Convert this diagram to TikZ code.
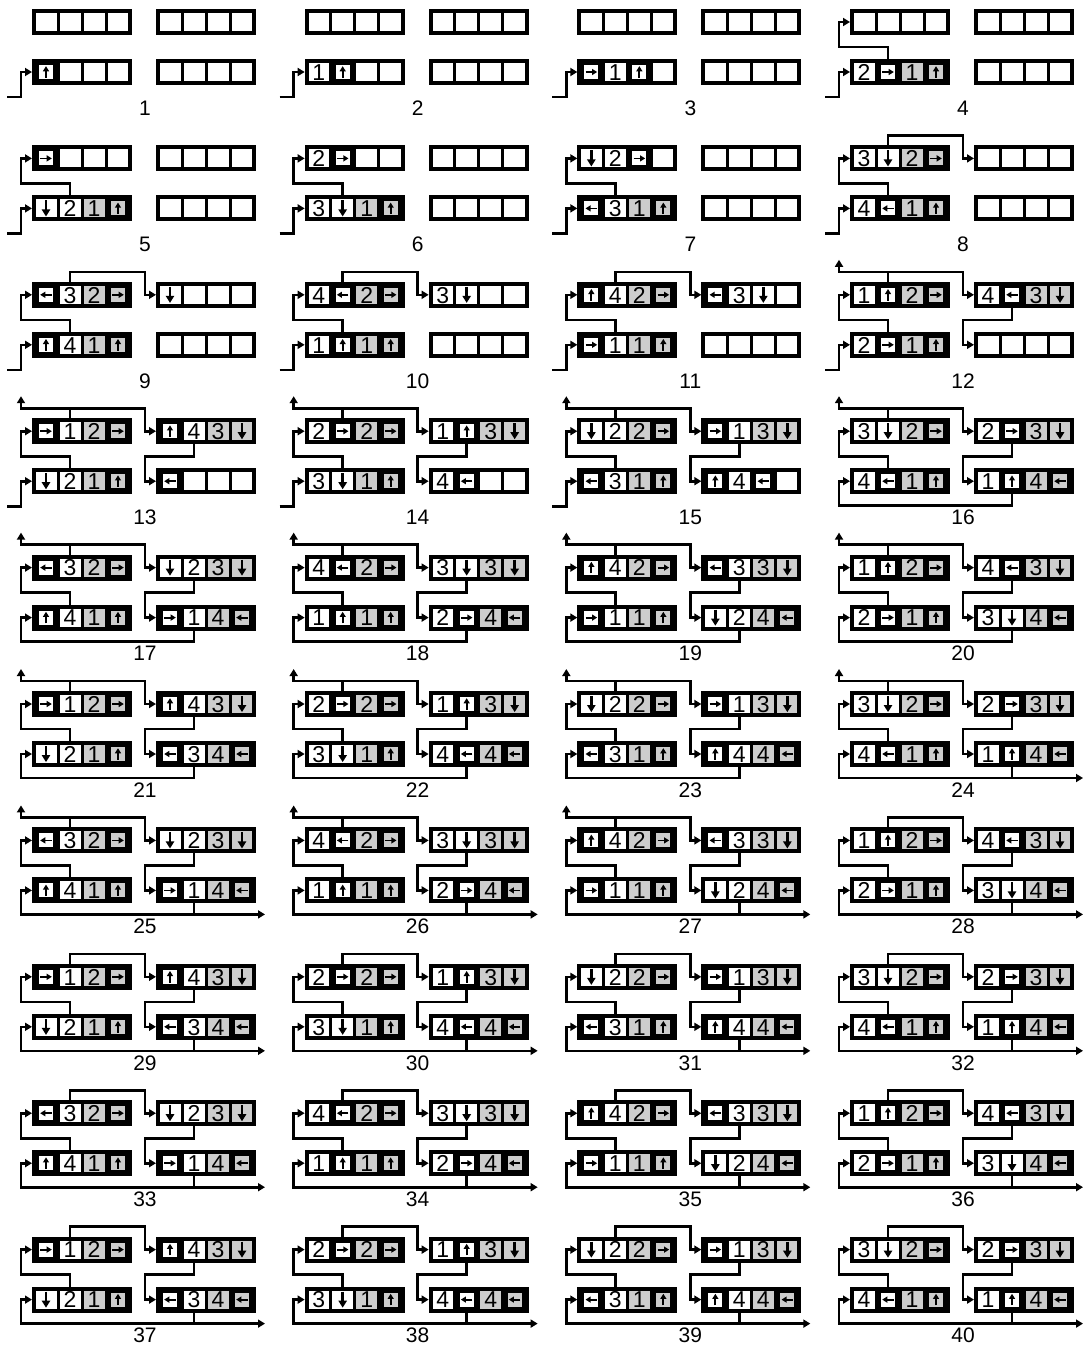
\documentclass[tikz,border=0pt]{standalone}
\usepackage{fontspec}
\setmainfont{Liberation Sans}
\usetikzlibrary{arrows.meta}
\definecolor{cgrey}{RGB}{205,205,205}
\newcommand\numfont{\fontsize{23}{23}\selectfont}
\newcommand\labfont{\fontsize{21}{21}\selectfont}
\tikzset{
 cellbox/.style={draw, line width=3pt, minimum width=24pt, minimum height=22pt, inner sep=0pt, outer sep=0pt},
 conn/.style={line width=2.6pt, -{Triangle[length=7pt,width=8pt]}},
 entry/.style={conn, shorten >=2pt},
}
% small arrow glyph: centre, direction vector, scale
\newcommand\arrowv[5]{%
 \draw[line width=2.5*#5] ({#1-8*#5*(#3)},{#2-8*#5*(#4)}) -- ({#1+2*#5*(#3)},{#2+2*#5*(#4)});
 \fill ({#1+8*#5*(#3)},{#2+8*#5*(#4)}) -- ({#1+#5*((#3)-4.4*(#4))},{#2+#5*((#4)+4.4*(#3))}) -- ({#1+#5*((#3)+4.4*(#4))},{#2+#5*((#4)-4.4*(#3))}) -- cycle;}
\newcommand\arru[3]{\arrowv{#1}{#2}{0}{-1}{#3}}
\newcommand\arrd[3]{\arrowv{#1}{#2}{0}{1}{#3}}
\newcommand\arrl[3]{\arrowv{#1}{#2}{-1}{0}{#3}}
\newcommand\arrr[3]{\arrowv{#1}{#2}{1}{0}{#3}}
\newcommand\arrowat[4]{\csname arr#3\endcsname{#1}{#2}{#4}}
% cell kinds
\newcommand\cE{\node[cellbox,fill=white] (\cn) at (\cx,\cy) {};}
\newcommand\cW[1]{\node[cellbox,fill=white] (\cn) at (\cx,\cy) {};\node[anchor=base,inner sep=0pt,font=\numfont] (\cn-t) at (\cx,\cy+8.2) {#1};}
\newcommand\cG[1]{\node[cellbox,fill=cgrey] (\cn) at (\cx,\cy) {};\node[anchor=base,inner sep=0pt,font=\numfont] (\cn-t) at (\cx,\cy+8.2) {#1};}
\newcommand\aW[1]{\node[cellbox,fill=white] (\cn) at (\cx,\cy) {};\arrowat{\cx}{\cy}{#1}{1}}
\newcommand\aQ[1]{\node[cellbox,fill=cgrey] (\cn) at (\cx,\cy) {};\arrowat{\cx}{\cy}{#1}{1}}
\newcommand\aB[1]{\node[cellbox,fill=black] (\cn) at (\cx,\cy) {};\fill[white] (\cx-7,\cy-7) rectangle (\cx+7,\cy+7);\arrowat{\cx}{\cy}{#1}{0.72}}
\newcommand\aG[1]{\node[cellbox,fill=black] (\cn) at (\cx,\cy) {};\fill[cgrey] (\cx-7,\cy-7) rectangle (\cx+7,\cy+7);\arrowat{\cx}{\cy}{#1}{0.72}}
% register of four cells
\newcommand\reg[4]{%
 \foreach \cc [count=\ci] in {#4} {%
   \pgfmathsetmacro\cx{#2+24*\ci-12}%
   \pgfmathsetmacro\cy{#3+11}%
   \edef\cn{#1-\ci}%
   \cc
 }%
 \draw[line width=4pt] (#1-1.north west) rectangle (#1-4.south east);
}
% connectors
\newcommand\conninp[1]{\draw[entry] (#1in) -- ++(14,0) |- (#1BL-1.west);}
\newcommand\connlloop[1]{\draw[entry] (#1BL-2.north) |- (#1lx) |- (#1TL-1.west);}
\newcommand\conntop[1]{\draw[entry] (#1TL-2.north) |- (#1tx) |- (#1TR-1.west);}
\newcommand\connup[1]{\draw[conn] (#1tx) -| (#1up);}
\newcommand\connrloop[1]{\draw[entry] (#1TR-2.south) |- (#1rx) |- (#1BR-1.west);}
\newcommand\connbot[1]{\draw[entry] (#1BR-2.south) |- (#1bx) |- (#1BL-1.west);}
\newcommand\connout[1]{\draw[conn] (#1BR-2.south) |- (#1out);}
% one panel
\newcommand\panel[6]{%
 \pgfmathtruncatemacro\pc{mod(#1-1,4)}%
 \pgfmathtruncatemacro\pr{(#1-1)/4}%
 \begin{scope}[shift={(272.67*\pc,136.4*\pr)}]
  \reg{p#1TL}{34}{11}{#2}
  \reg{p#1TR}{158}{11}{#3}
  \reg{p#1BL}{34}{61}{#4}
  \reg{p#1BR}{158}{61}{#5}
  \node[font=\labfont,inner sep=0pt] (p#1lab) at (145,108) {#1};
  \coordinate (p#1in) at (7,97);
  \coordinate (p#1lx) at (21,47);
  \coordinate (p#1tx) at (145,-1);
  \coordinate (p#1up) at (21,-13);
  \coordinate (p#1rx) at (145,47);
  \coordinate (p#1bx) at (21,96);
  \coordinate (p#1out) at (265,96);
  \foreach \kk in {#6} {\csname conn\kk\endcsname{p#1}}
 \end{scope}
}
% repeating states
\newcommand\stA[2]{\panel{#1}{\aB{l},\cW{3},\cG{2},\aG{r}}{\aW{d},\cW{2},\cG{3},\aQ{d}}{\aB{u},\cW{4},\cG{1},\aG{u}}{\aB{r},\cW{1},\cG{4},\aG{l}}{#2}}
\newcommand\stB[2]{\panel{#1}{\cW{4},\aB{l},\cG{2},\aG{r}}{\cW{3},\aW{d},\cG{3},\aQ{d}}{\cW{1},\aB{u},\cG{1},\aG{u}}{\cW{2},\aB{r},\cG{4},\aG{l}}{#2}}
\newcommand\stC[2]{\panel{#1}{\aB{u},\cW{4},\cG{2},\aG{r}}{\aB{l},\cW{3},\cG{3},\aQ{d}}{\aB{r},\cW{1},\cG{1},\aG{u}}{\aW{d},\cW{2},\cG{4},\aG{l}}{#2}}
\newcommand\stD[2]{\panel{#1}{\cW{1},\aB{u},\cG{2},\aG{r}}{\cW{4},\aB{l},\cG{3},\aQ{d}}{\cW{2},\aB{r},\cG{1},\aG{u}}{\cW{3},\aW{d},\cG{4},\aG{l}}{#2}}
\newcommand\stE[2]{\panel{#1}{\aB{r},\cW{1},\cG{2},\aG{r}}{\aB{u},\cW{4},\cG{3},\aQ{d}}{\aW{d},\cW{2},\cG{1},\aG{u}}{\aB{l},\cW{3},\cG{4},\aG{l}}{#2}}
\newcommand\stF[2]{\panel{#1}{\cW{2},\aB{r},\cG{2},\aG{r}}{\cW{1},\aB{u},\cG{3},\aQ{d}}{\cW{3},\aW{d},\cG{1},\aG{u}}{\cW{4},\aB{l},\cG{4},\aG{l}}{#2}}
\newcommand\stG[2]{\panel{#1}{\aW{d},\cW{2},\cG{2},\aG{r}}{\aB{r},\cW{1},\cG{3},\aQ{d}}{\aB{l},\cW{3},\cG{1},\aG{u}}{\aB{u},\cW{4},\cG{4},\aG{l}}{#2}}
\newcommand\stH[2]{\panel{#1}{\cW{3},\aW{d},\cG{2},\aG{r}}{\cW{2},\aB{r},\cG{3},\aQ{d}}{\cW{4},\aB{l},\cG{1},\aG{u}}{\cW{1},\aB{u},\cG{4},\aG{l}}{#2}}
\begin{document}
\begin{tikzpicture}[x=1pt,y=-1pt]
\useasboundingbox (0,0) rectangle (1085,1347);
\fill[white] (0,0) rectangle (1085,1347);
\panel{1}{\cE,\cE,\cE,\cE}{\cE,\cE,\cE,\cE}{\aB{u},\cE,\cE,\cE}{\cE,\cE,\cE,\cE}{inp}
\panel{2}{\cE,\cE,\cE,\cE}{\cE,\cE,\cE,\cE}{\cW{1},\aB{u},\cE,\cE}{\cE,\cE,\cE,\cE}{inp}
\panel{3}{\cE,\cE,\cE,\cE}{\cE,\cE,\cE,\cE}{\aB{r},\cW{1},\aB{u},\cE}{\cE,\cE,\cE,\cE}{inp}
\panel{4}{\cE,\cE,\cE,\cE}{\cE,\cE,\cE,\cE}{\cW{2},\aB{r},\cG{1},\aG{u}}{\cE,\cE,\cE,\cE}{inp,lloop}
\panel{5}{\aB{r},\cE,\cE,\cE}{\cE,\cE,\cE,\cE}{\aW{d},\cW{2},\cG{1},\aG{u}}{\cE,\cE,\cE,\cE}{inp,lloop}
\panel{6}{\cW{2},\aB{r},\cE,\cE}{\cE,\cE,\cE,\cE}{\cW{3},\aW{d},\cG{1},\aG{u}}{\cE,\cE,\cE,\cE}{inp,lloop}
\panel{7}{\aW{d},\cW{2},\aB{r},\cE}{\cE,\cE,\cE,\cE}{\aB{l},\cW{3},\cG{1},\aG{u}}{\cE,\cE,\cE,\cE}{inp,lloop}
\panel{8}{\cW{3},\aW{d},\cG{2},\aG{r}}{\cE,\cE,\cE,\cE}{\cW{4},\aB{l},\cG{1},\aG{u}}{\cE,\cE,\cE,\cE}{inp,lloop,top}
\panel{9}{\aB{l},\cW{3},\cG{2},\aG{r}}{\aW{d},\cE,\cE,\cE}{\aB{u},\cW{4},\cG{1},\aG{u}}{\cE,\cE,\cE,\cE}{inp,lloop,top}
\panel{10}{\cW{4},\aB{l},\cG{2},\aG{r}}{\cW{3},\aW{d},\cE,\cE}{\cW{1},\aB{u},\cG{1},\aG{u}}{\cE,\cE,\cE,\cE}{inp,lloop,top}
\panel{11}{\aB{u},\cW{4},\cG{2},\aG{r}}{\aB{l},\cW{3},\aW{d},\cE}{\aB{r},\cW{1},\cG{1},\aG{u}}{\cE,\cE,\cE,\cE}{inp,lloop,top}
\panel{12}{\cW{1},\aB{u},\cG{2},\aG{r}}{\cW{4},\aB{l},\cG{3},\aQ{d}}{\cW{2},\aB{r},\cG{1},\aG{u}}{\cE,\cE,\cE,\cE}{inp,lloop,top,up,rloop}
\panel{13}{\aB{r},\cW{1},\cG{2},\aG{r}}{\aB{u},\cW{4},\cG{3},\aQ{d}}{\aW{d},\cW{2},\cG{1},\aG{u}}{\aB{l},\cE,\cE,\cE}{inp,lloop,top,up,rloop}
\panel{14}{\cW{2},\aB{r},\cG{2},\aG{r}}{\cW{1},\aB{u},\cG{3},\aQ{d}}{\cW{3},\aW{d},\cG{1},\aG{u}}{\cW{4},\aB{l},\cE,\cE}{inp,lloop,top,up,rloop}
\panel{15}{\aW{d},\cW{2},\cG{2},\aG{r}}{\aB{r},\cW{1},\cG{3},\aQ{d}}{\aB{l},\cW{3},\cG{1},\aG{u}}{\aB{u},\cW{4},\aB{l},\cE}{inp,lloop,top,up,rloop}
\stH{16}{lloop,top,up,rloop,bot}
\stA{17}{lloop,top,up,rloop,bot}
\stB{18}{lloop,top,up,rloop,bot}
\stC{19}{lloop,top,up,rloop,bot}
\stD{20}{lloop,top,up,rloop,bot}
\stE{21}{lloop,top,up,rloop,bot}
\stF{22}{lloop,top,up,rloop,bot}
\stG{23}{lloop,top,up,rloop,bot}
\stH{24}{lloop,top,up,rloop,bot,out}
\stA{25}{lloop,top,up,rloop,bot,out}
\stB{26}{lloop,top,up,rloop,bot,out}
\stC{27}{lloop,top,up,rloop,bot,out}
\stD{28}{lloop,top,rloop,bot,out}
\stE{29}{lloop,top,rloop,bot,out}
\stF{30}{lloop,top,rloop,bot,out}
\stG{31}{lloop,top,rloop,bot,out}
\stH{32}{lloop,top,rloop,bot,out}
\stA{33}{lloop,top,rloop,bot,out}
\stB{34}{lloop,top,rloop,bot,out}
\stC{35}{lloop,top,rloop,bot,out}
\stD{36}{lloop,top,rloop,bot,out}
\stE{37}{lloop,top,rloop,bot,out}
\stF{38}{lloop,top,rloop,bot,out}
\stG{39}{lloop,top,rloop,bot,out}
\stH{40}{lloop,top,rloop,bot,out}
\end{tikzpicture}
\end{document}
